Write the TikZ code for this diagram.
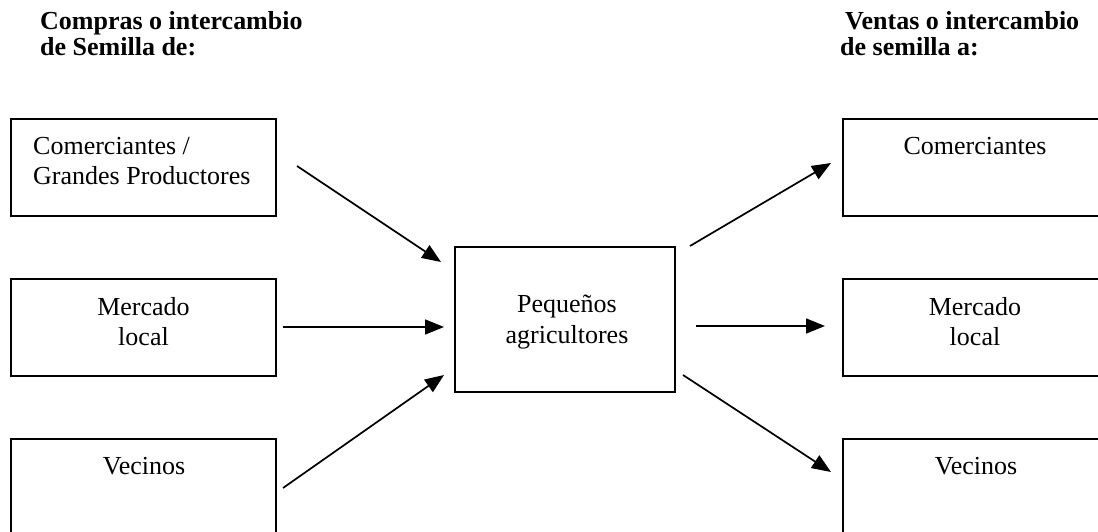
\documentclass[tikz,border=0pt]{standalone}
\usepackage{fontspec}
\setmainfont{Liberation Serif}
\usetikzlibrary{arrows.meta}
\begin{document}
\begin{tikzpicture}[x=1pt,y=-1pt,
  box/.style={draw=black,line width=1.7pt},
  lbl/.style={anchor=base,inner sep=0pt,font=\fontsize{26}{30}\selectfont},
  lblw/.style={anchor=base west,inner sep=0pt,font=\fontsize{26}{30}\selectfont},
  ttl/.style={anchor=base west,inner sep=0pt,font=\fontsize{26}{30}\selectfont\bfseries},
  arr/.style={line width=1.7pt,-{Triangle[length=19pt,width=15pt]}}]
\useasboundingbox (0,0) rectangle (1098,532);
\clip (0,0) rectangle (1098,532);
% titles
\node[ttl] (t1a) at (40,30) {Compras o intercambio};
\node[ttl] (t1b) at (40,56) {de Semilla de:};
\node[ttl] (t2a) at (845,30) {Ventas o intercambio};
\node[ttl] (t2b) at (840,56) {de semilla a:};
% boxes
\draw[box] (11,119) rectangle (276,216) coordinate (L1);
\draw[box] (11,279) rectangle (276,376) coordinate (L2);
\draw[box] (11,439) rectangle (276,545) coordinate (L3);
\draw[box] (455,247) rectangle (675,392) coordinate (C);
\draw[box] (843,119) rectangle (1110,216) coordinate (R1);
\draw[box] (843,279) rectangle (1110,376) coordinate (R2);
\draw[box] (843,439) rectangle (1110,545) coordinate (R3);
% labels
\node[lblw] (l1a) at (33,155) {Comerciantes /};
\node[lblw] (l1b) at (33,185) {Grandes Productores};
\node[lbl] (l2a) at (143.5,315) {Mercado};
\node[lbl] (l2b) at (143.5,345) {local};
\node[lbl] (l3a) at (144,474) {Vecinos};
\node[lbl] (ca) at (567,312) {Pequeños};
\node[lbl] (cb) at (567,343) {agricultores};
\node[lbl] (r1a) at (975,154) {Comerciantes};
\node[lbl] (r2a) at (975,315) {Mercado};
\node[lbl] (r2b) at (975,345) {local};
\node[lbl] (r3a) at (976,474) {Vecinos};
% arrow endpoints
\coordinate (a1s) at (297,166); \coordinate (a1e) at (441,262);
\coordinate (a2s) at (283,327); \coordinate (a2e) at (444,327);
\coordinate (a3s) at (283,488); \coordinate (a3e) at (444,375);
\coordinate (b1s) at (690,246); \coordinate (b1e) at (831,163);
\coordinate (b2s) at (696,326); \coordinate (b2e) at (825,326);
\coordinate (b3s) at (683,375); \coordinate (b3e) at (831,472);
\draw[arr] (a1s) -- (a1e);
\draw[arr] (a2s) -- (a2e);
\draw[arr] (a3s) -- (a3e);
\draw[arr] (b1s) -- (b1e);
\draw[arr] (b2s) -- (b2e);
\draw[arr] (b3s) -- (b3e);
\end{tikzpicture}
\end{document}
